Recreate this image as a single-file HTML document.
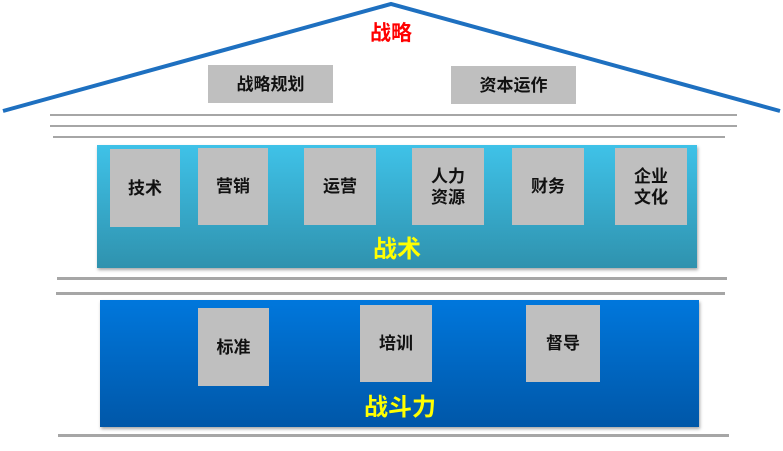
<!DOCTYPE html>
<html><head><meta charset="utf-8"><style>
body{margin:0;width:783px;height:451px;background:#fff;position:relative;overflow:hidden;font-family:"Liberation Sans","Noto Sans CJK SC",sans-serif;font-weight:bold}
.a{position:absolute}
.g{position:absolute;background:#bfbfbf;color:#111;display:flex;align-items:center;justify-content:center;text-align:center;font-size:17px;line-height:21px}
.l{position:absolute;height:3px;background:#a6a6a6}
</style></head><body>
<svg class="a" style="left:0;top:0" width="783" height="120"><polyline points="3,111 391,4 780,111" fill="none" stroke="#1e70c0" stroke-width="4"/></svg>
<div class="a" style="left:351px;top:17px;width:80px;text-align:center;color:#f00;font-size:21px">战略</div>
<div class="g" style="left:208px;top:65px;width:125px;height:38px">战略规划</div>
<div class="g" style="left:451px;top:66px;width:125px;height:38px">资本运作</div>
<div class="l" style="left:50px;top:114px;width:687px;height:2px"></div>
<div class="l" style="left:50px;top:125px;width:687px;height:2px"></div>
<div class="l" style="left:53px;top:136px;width:672px;height:2px"></div>
<div class="a" style="left:97px;top:145px;width:600px;height:123px;background:linear-gradient(#3fc2e8,#2f92ae);box-shadow:1px 2px 3px rgba(0,0,0,.35)"></div>
<div class="g" style="left:110px;top:149px;width:70px;height:78px">技术</div>
<div class="g" style="left:198px;top:148px;width:70px;height:77px">营销</div>
<div class="g" style="left:304px;top:148px;width:72px;height:77px">运营</div>
<div class="g" style="left:412px;top:148px;width:72px;height:77px">人力<br>资源</div>
<div class="g" style="left:512px;top:148px;width:72px;height:77px">财务</div>
<div class="g" style="left:615px;top:148px;width:72px;height:77px">企业<br>文化</div>
<div class="a" style="left:337px;top:229px;width:120px;text-align:center;color:#ff0;font-size:24px">战术</div>
<div class="l" style="left:57px;top:277px;width:670px"></div>
<div class="l" style="left:56px;top:292px;width:669px"></div>
<div class="a" style="left:100px;top:300px;width:599px;height:127px;background:linear-gradient(#0077dc,#0057a8);box-shadow:1px 2px 3px rgba(0,0,0,.35)"></div>
<div class="g" style="left:198px;top:308px;width:71px;height:78px">标准</div>
<div class="g" style="left:360px;top:305px;width:72px;height:77px">培训</div>
<div class="g" style="left:526px;top:305px;width:74px;height:77px">督导</div>
<div class="a" style="left:330px;top:387px;width:140px;text-align:center;color:#ff0;font-size:24px">战斗力</div>
<div class="l" style="left:58px;top:434px;width:671px"></div>
</body></html>
